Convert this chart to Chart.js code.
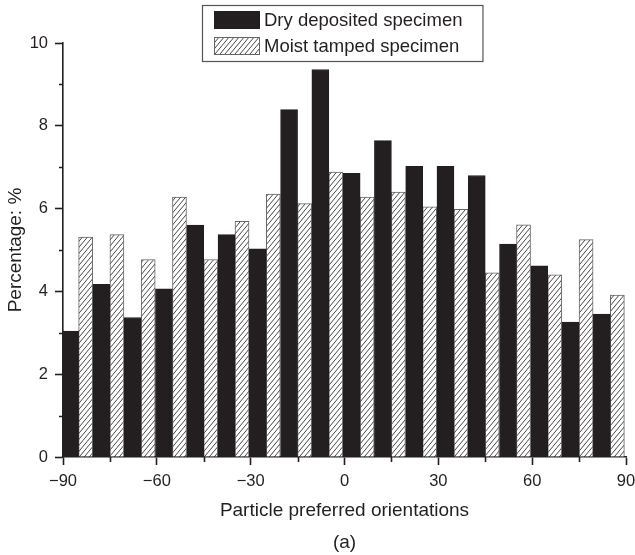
<!DOCTYPE html>
<html lang="en">
<head>
  <meta charset="UTF-8">
  <title>Particle preferred orientations</title>
  <style>
    html, body { margin: 0; padding: 0; background: #fff; }
    #wrap { width: 635px; height: 555px; }
  </style>
</head>
<body>
<div id="wrap"><canvas id="myChart" width="635" height="555"></canvas></div>

<script src="https://cdn.jsdelivr.net/npm/chart.js"></script>
<script>
  // orientation bins (start of each 10 degree bin)
  var binStarts = [-90, -80, -70, -60, -50, -40, -30, -20, -10, 0, 10, 20, 30, 40, 50, 60, 70, 80];
  var dryValues = [3.04, 4.17, 3.37, 4.06, 5.60, 5.37, 5.03, 8.39, 9.36, 6.85, 7.64, 7.02, 7.02, 6.80, 5.14, 4.62, 3.26, 3.45];
  var moistValues = [5.31, 5.37, 4.77, 6.28, 4.77, 5.69, 6.35, 6.12, 6.88, 6.28, 6.40, 6.04, 5.98, 4.45, 5.61, 4.40, 5.25, 3.91];
  var xMajorTicks = [-90, -60, -30, 0, 30, 60, 90];
  var xMinorTicks = [-75, -45, -15, 15, 45, 75];
  var yMinorTicks = [1, 3, 5, 7, 9];

  var axisColor = '#231f20';
  var fontFamily = '"Liberation Sans", Arial, sans-serif';

  // hatch pattern for the moist tamped bars
  function makeHatch() {
    var w = 5, h = 6;
    var c = document.createElement('canvas');
    c.width = w; c.height = h;
    var g = c.getContext('2d');
    g.fillStyle = '#fff';
    g.fillRect(0, 0, w, h);
    g.strokeStyle = '#333';
    g.lineWidth = 0.9;
    for (var k = -1; k <= 1; k++) {
      g.beginPath();
      g.moveTo(-w + k * w, 2 * h);
      g.lineTo(2 * w + k * w, -h);
      g.stroke();
    }
    return g.createPattern(c, 'repeat');
  }
  var hatch = makeHatch();

  function fmt(v) {
    return v < 0 ? '\u2212' + Math.abs(v) : String(v);
  }

  // minor ticks, shorter than major ones
  var minorTicks = {
    id: 'minorTicks',
    afterDraw: function(chart) {
      var ctx = chart.ctx, a = chart.chartArea;
      var xs = chart.scales.xTicks, ys = chart.scales.y;
      ctx.save();
      ctx.strokeStyle = axisColor;
      ctx.lineWidth = 1.6;
      ctx.beginPath();
      xMinorTicks.forEach(function(v) {
        var px = Math.round(xs.getPixelForValue(v)) + 0.5;
        ctx.moveTo(px, a.bottom);
        ctx.lineTo(px, a.bottom + 5);
      });
      yMinorTicks.forEach(function(v) {
        var py = Math.round(ys.getPixelForValue(v)) + 0.5;
        ctx.moveTo(a.left - 4, py);
        ctx.lineTo(a.left, py);
      });
      ctx.stroke();
      ctx.restore();
    }
  };

  // boxed legend, one entry per row
  var boxLegend = {
    id: 'boxLegend',
    afterDraw: function(chart) {
      var ctx = chart.ctx, a = chart.chartArea;
      var sets = chart.data.datasets;
      ctx.save();
      ctx.font = '18.5px ' + fontFamily;
      var tw = 0;
      sets.forEach(function(d) { tw = Math.max(tw, ctx.measureText(d.label).width); });
      var padL = 12, sw = 46, sh = 18, gap = 4, padR = 20, rowH = 26, top = 5;
      var bw = padL + sw + gap + tw + padR, bh = 56;
      var left = Math.round((a.left + a.right) / 2 - bw / 2) - 2;
      ctx.fillStyle = '#fff';
      ctx.fillRect(left, top, bw, bh);
      ctx.strokeStyle = '#555';
      ctx.lineWidth = 1.2;
      ctx.strokeRect(left + 0.5, top + 0.5, bw, bh);
      sets.forEach(function(d, i) {
        var cy = top + 15 + i * rowH;
        ctx.fillStyle = d.backgroundColor;
        ctx.fillRect(left + padL, cy - sh / 2, sw, sh);
        ctx.strokeStyle = d.borderColor;
        ctx.lineWidth = 1;
        ctx.strokeRect(left + padL + 0.5, cy - sh / 2 + 0.5, sw - 1, sh - 1);
        ctx.fillStyle = '#231f20';
        ctx.textBaseline = 'middle';
        ctx.fillText(d.label, left + padL + sw + gap, cy + 1);
      });
      ctx.restore();
    }
  };

  var ctx = document.getElementById('myChart').getContext('2d');
  var myChart = new Chart(ctx, {
    type: 'bar',
    data: {
      labels: binStarts.map(String),
      datasets: [{
        label: 'Dry deposited specimen',
        data: dryValues,
        xAxisID: 'x',
        backgroundColor: '#231f20',
        borderColor: '#231f20',
        borderWidth: 1,
        barThickness: 17
      }, {
        label: 'Moist tamped specimen',
        data: moistValues,
        xAxisID: 'x',
        backgroundColor: hatch,
        borderColor: '#666',
        borderWidth: 1,
        barThickness: 14
      }]
    },
    options: {
      responsive: false,
      animation: false,
      devicePixelRatio: 1,
      layout: { padding: { top: 43, right: 9, left: 0, bottom: 0 } },
      plugins: {
        legend: { display: false },
        tooltip: { enabled: false }
      },
      scales: {
        x: {
          type: 'category',
          display: false,
          offset: true
        },
        xTicks: {
          type: 'linear',
          axis: 'x',
          position: 'bottom',
          min: -90,
          max: 90,
          offset: false,
          afterBuildTicks: function(s) {
            s.ticks = xMajorTicks.map(function(v) { return { value: v }; });
          },
          afterFit: function(s) {
            s.height = 98;
            s.paddingLeft = 0;
            s.paddingRight = 0;
          },
          border: { display: true, color: axisColor, width: 1.6 },
          grid: { offset: false, drawOnChartArea: false, tickLength: 8, tickColor: axisColor, tickWidth: 1.6 },
          ticks: {
            color: axisColor,
            padding: 7,
            maxRotation: 0,
            autoSkip: false,
            font: { family: fontFamily, size: 16.5 },
            callback: function(v) { return fmt(v); }
          },
          title: {
            display: true,
            text: ['Particle preferred orientations', '(a)'],
            color: axisColor,
            font: { family: fontFamily, size: 19, lineHeight: '32px' },
            padding: { top: 0, bottom: -4 }
          }
        },
        y: {
          min: 0,
          max: 10,
          afterFit: function(s) { s.width = 63; },
          border: { display: true, color: axisColor, width: 1.6 },
          grid: { drawOnChartArea: false, tickLength: 8, tickColor: axisColor, tickWidth: 1.6 },
          ticks: {
            stepSize: 2,
            color: axisColor,
            padding: 7,
            font: { family: fontFamily, size: 16.5 }
          },
          title: {
            display: true,
            text: 'Percentage: %',
            color: axisColor,
            font: { family: fontFamily, size: 19 },
            padding: { top: 4, bottom: 4 }
          }
        }
      }
    },
    plugins: [minorTicks, boxLegend]
  });
</script>
</body>
</html>
